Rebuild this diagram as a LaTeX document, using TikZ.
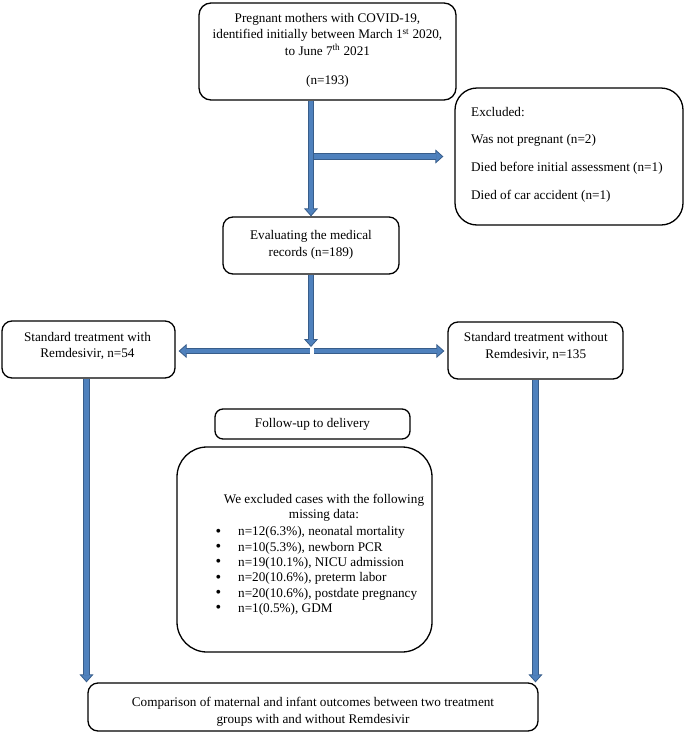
\documentclass[tikz,border=0pt]{standalone}
\usepackage{fontspec}
\setmainfont{Liberation Serif}
\usetikzlibrary{arrows.meta,calc}
\definecolor{arrblue}{HTML}{4F81BD}
\definecolor{arrdark}{HTML}{385D8A}
\newcommand{\blt}{\makebox[22.5pt][l]{\smash{\raisebox{-0.3pt}{\fontsize{16}{16}\selectfont\textbullet}}}}
\begin{document}
\begin{tikzpicture}[x=1pt,y=-1pt,
  box/.style={draw=black, line width=1.3pt, rounded corners=#1, inner sep=0pt},
  box/.default=10pt,
  txt/.style={inner sep=0pt, align=center, font=\fontsize{13.2}{16.6}\selectfont},
  blockarrow/.style={draw=arrdark, line width=6.5pt,
    -{Triangle[length=8pt,width=14pt,line width=0.8pt,fill=arrblue]},
    postaction={draw=arrblue, line width=4.6pt, arrows=-, shorten >=7pt}}]
\useasboundingbox (0,0) rectangle (685,734);

% boxes
\node[box=12pt, minimum width=257pt, minimum height=97pt] (top) at (327.5,51.5) {};
\node[txt] (toptxt) at (327.5,50)
  {Pregnant mothers with COVID-19,\\identified initially between March 1\textsuperscript{st} 2020,\\to June 7\textsuperscript{th} 2021\\[12.5pt](n=193)};
\node[box=22pt, minimum width=228pt, minimum height=137pt] (excl) at (569,156.5) {};
\node[txt, anchor=west, align=left, font=\fontsize{13.2}{27.7}\selectfont] (excltxt) at (471,154.5)
  {Excluded:\\Was not pregnant (n=2)\\Died before initial assessment (n=1)\\Died of car accident (n=1)};
\node[box, minimum width=176pt, minimum height=57pt] (eval) at (311,245.5) {};
\node[txt] (evaltxt) at (311,245) {Evaluating the medical\\records (n=189)};
\node[box, minimum width=173pt, minimum height=57pt] (left) at (88.5,349.5) {};
\node[txt] (lefttxt) at (87.5,346) {Standard treatment with\\Remdesivir, n=54};
\node[box, minimum width=175pt, minimum height=57pt] (right) at (535.5,350.5) {};
\node[txt] (righttxt) at (535.8,346.5) {Standard treatment without\\Remdesivir, n=135};
\node[box=8pt, minimum width=195pt, minimum height=30pt, font=\fontsize{13.2}{16.6}\selectfont] (follow) at (312.5,424)
  {Follow-up to delivery};
\node[box=30pt, minimum width=255pt, minimum height=205pt] (big) at (304.5,549.5) {};
\node[txt, font=\fontsize{13.2}{15.2}\selectfont] (bighead) at (324,508)
  {We excluded cases with the following\\missing data:};
\node[txt, anchor=west, align=left, font=\fontsize{13.2}{15.3}\selectfont] (biglist) at (215.5,571)
  {\blt n=12(6.3\%), neonatal mortality\\
   \blt n=10(5.3\%), newborn PCR\\
   \blt n=19(10.1\%), NICU admission\\
   \blt n=20(10.6\%), preterm labor\\
   \blt n=20(10.6\%), postdate pregnancy\\
   \blt n=1(0.5\%), GDM};
\node[box, minimum width=450pt, minimum height=48pt] (bottom) at (313,707) {};
\node[txt] (bottomtxt) at (313,712)
  {Comparison of maternal and infant outcomes between two treatment\\groups with and without Remdesivir};

% arrows
\coordinate (split) at (311,351);
\draw[blockarrow] (eval.north |- top.south) -- (eval.north);
\draw[blockarrow] ($(eval.north |- excl.west)+(2.5,0)$) -- ($(excl.west)+(-11,0)$);
\draw[blockarrow] (eval.south) -- ($(split)+(0,-4)$);
\draw[blockarrow] ($(split)+(-1.5,0)$) -- ($(left.east |- split)+(3,0)$);
\draw[blockarrow] ($(split)+(2.5,0)$) -- ($(right.west |- split)+(-3,0)$);
\draw[blockarrow] ($(left.south)+(-2,0)$) -- ($(left.south |- bottom.north)+(-2,0)$);
\draw[blockarrow] (right.south) -- (right.south |- bottom.north);
\end{tikzpicture}
\end{document}
